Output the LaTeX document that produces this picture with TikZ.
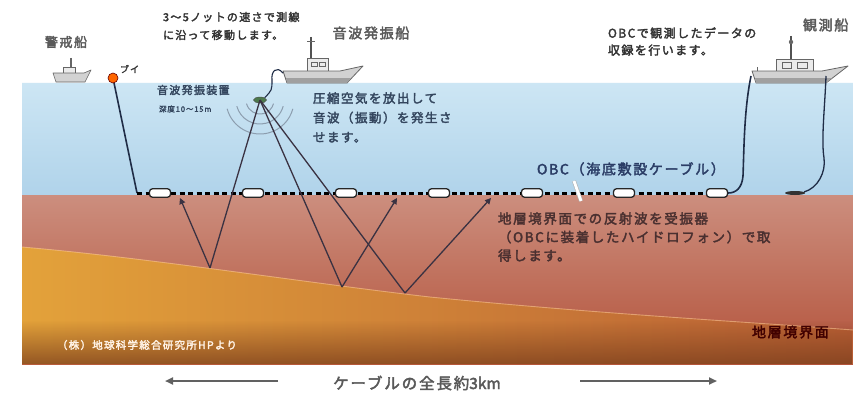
\documentclass[tikz,border=0pt]{standalone}
\usepackage{fontspec}
\newfontfamily\jp[LetterSpace=12,FakeBold=2.6]{Noto Sans CJK JP}
\usetikzlibrary{arrows.meta,fadings,shapes.geometric}

\definecolor{seaTop}{HTML}{CDE6F4}
\definecolor{seaBot}{HTML}{B0D3EA}
\definecolor{mudTop}{HTML}{CC8E7E}
\definecolor{mudBot}{HTML}{B3523A}
\definecolor{sandL}{HTML}{E3A23A}
\definecolor{sandR}{HTML}{B85E35}
\definecolor{deep}{HTML}{7A3E1C}
\definecolor{rope}{HTML}{1F2C46}
\definecolor{raycol}{HTML}{3A3242}
\definecolor{shipFill}{HTML}{D2D2D2}
\definecolor{shipDark}{HTML}{A0A0A0}
\definecolor{shipLine}{HTML}{666666}
\definecolor{titleGray}{HTML}{5A5A5A}
\definecolor{noteDark}{HTML}{333333}
\definecolor{waterText}{HTML}{34465E}
\definecolor{cableText}{HTML}{2B3D66}
\definecolor{mudText}{HTML}{4A3030}
\definecolor{waveCol}{HTML}{8C9DAE}

\tikzset{
  lbl/.style={inner sep=0pt, outer sep=0pt, align=left},
  jpfont/.style={font=\jp\fontsize{#1}{#1}\selectfont},
  capsule/.style={draw=black!85, fill=white, rounded corners=3pt, line width=1.3pt,
    minimum width=21pt, minimum height=8.5pt, inner sep=0pt},
  raypath/.style={draw=raycol, line width=1.3pt},
  rayhit/.style={raypath, -{Triangle[length=6pt,width=6pt]}},
  ropeline/.style={draw=rope, line width=1.6pt},
  hull/.style={fill=shipFill, draw=shipLine, line width=0.8pt, line join=round},
  cabin/.style={fill=white!92!black, draw=shipLine, line width=0.8pt},
  mast/.style={draw=shipLine!80!black, line width=1.8pt},
  wave/.style={draw=waveCol, line width=1pt},
  spanarrow/.style={draw=black!62, line width=2pt, -{Triangle[length=8pt,width=7pt]}},
}

\begin{document}
\begin{tikzpicture}[x=1pt,y=-1pt]
\useasboundingbox (0,0) rectangle (853,396);
\fill[white] (0,0) rectangle (853,396);

% ---------- sea ----------
\shade[top color=seaTop, bottom color=seaBot] (22,82) rectangle (853,195);
\draw[white!85!seaTop, line width=0.8pt] (22,82.5) -- (853,82.5);

% ---------- upper sediment ----------
\shade[top color=mudTop, bottom color=mudBot] (22,195) rectangle (853,364);

% ---------- lower sediment ----------
\shade[left color=sandL, right color=sandR]
  (22,247) .. controls (150,258) and (300,282) .. (430,297)
  .. controls (600,314) and (750,322) .. (853,330)
  -- (853,364) -- (22,364) -- cycle;
\fill[deep, path fading=north, fill opacity=0.75] (22,320) rectangle (853,364);
\draw[white!60!orange, opacity=0.55, line width=0.9pt]
  (22,247) .. controls (150,258) and (300,282) .. (430,297)
  .. controls (600,314) and (750,322) .. (853,330);

% ---------- key points ----------
\coordinate (buoy) at (113,78);
\coordinate (bend) at (137,193);
\coordinate (cend) at (727,193);
\coordinate (r1) at (210,268);
\coordinate (r2) at (342,287);
\coordinate (r3) at (405,293);
\coordinate (h1) at (180,198);
\coordinate (h2) at (397,198);
\coordinate (h3) at (491,198);
\coordinate (stern) at (283,73);
\coordinate (obsA) at (751,76);
\coordinate (obsB) at (826,76);

% ---------- source ship ----------
\draw[mast] (311,37) -- (311,58);
\draw[shipLine, line width=1pt] (307,42) -- (315,42);
\draw[cabin] (307,58) rectangle (328,71);
\draw[shipLine, line width=0.6pt] (311,62) rectangle (317,66) (319,62) rectangle (325,66);
\draw[hull] (283,71) -- (340,71) -- (363,66) -- (347,83) -- (287,83) -- cycle;
\fill[shipDark] (286,78) -- (351,78) -- (347,83) -- (287,83) -- cycle;

% ---------- guard ship ----------
\draw[shipLine, line width=1.2pt] (71,58) -- (71,67);
\draw[cabin, line width=0.6pt] (63,67) rectangle (75,73);
\draw[hull, line width=0.6pt] (53,73) -- (84,73) -- (91,70) -- (85,82) -- (56,82) -- cycle;

% ---------- observation ship ----------
\draw[mast] (791,36) -- (791,59);
\fill[shipLine] (791,42) circle (2.2pt);
\draw[cabin] (776,59) rectangle (813,71);
\draw[shipLine, line width=0.7pt] (782,62) rectangle (791,68) (797,62) rectangle (807,68);
\draw[hull] (752,71) -- (822,71) -- (848,66) -- (826,83) -- (756,83) -- cycle;
\fill[shipDark] (755,78) -- (832,78) -- (826,83) -- (756,83) -- cycle;
\draw[shipLine, line width=1pt] (757,71) -- (757,67);

% ---------- buoy line and cable ----------
\draw[ropeline] (buoy) -- (bend);
\draw[black, line width=3pt, dash pattern=on 5pt off 3.5pt] (bend) -- (cend);
\node[circle, fill=orange!80!red, draw=red!40!black, line width=0.6pt,
      minimum size=10pt, inner sep=0pt] (buoynode) at (buoy) {};

% tow line and air gun
\node[ellipse, fill=green!25!black!70, draw=black!70, minimum width=13pt,
      minimum height=6pt, inner sep=0pt] (src) at (260,100) {};
\draw[ropeline, line width=1.1pt] (stern) .. controls (276,65) and (271,72) .. (272,80)
  .. controls (272,90) .. (src.north east);

% acoustic wave fronts below the gun (radii in pt, so angles are page angles)
\foreach \r in {14,24,34}
  \draw[wave] ([shift={(195:\r pt)}]src.center) arc[start angle=195, end angle=345, radius=\r pt];

% ray paths
\draw[raypath] (src.center) -- (r1);
\draw[raypath] (src.center) -- (r2);
\draw[raypath] (src.center) -- (r3);
\draw[rayhit] (r1) -- (h1);
\draw[rayhit] (r2) -- (h2);
\draw[rayhit] (r3) -- (h3);

% receivers on the cable
\foreach \n/\x in {1/160,2/253,3/346,4/439,5/532,6/624,7/717}
  \node[capsule] (c\n) at (\x,193) {};

% cable up to the observation ship
\draw[ropeline] (c7.east) .. controls (736,193) and (742,188) .. (743,176)
  .. controls (744,150) and (744,110) .. (obsA);
\draw[ropeline, line width=1.3pt] (obsB) .. controls (825,105) and (821,140) .. (824,158)
  .. controls (826,172) and (818,188) .. (804,192);
\node[ellipse, fill=black!80, minimum width=20pt, minimum height=4pt, inner sep=0pt]
  (anchor) at (795,193) {};

% pointer below the cable label
\coordinate (ptA) at (574,181);
\coordinate (ptB) at (581,201);
\draw[black!30, line width=4pt] (ptA) -- (ptB);
\draw[white, line width=2.8pt] (ptA) -- (ptB);

% ---------- labels ----------
\node[lbl, jpfont=13, text=titleGray] (tGuard) at (66,42) {警戒船};
\node[lbl, jpfont=14, text=titleGray] (tSrcShip) at (371,33) {音波発振船};
\node[lbl, jpfont=14, text=titleGray, anchor=west] (tObsShip) at (803,25) {観測船};
\node[lbl, text=noteDark, anchor=west, font=\jp\fontsize{11}{18}\selectfont]
  (tMove) at (163,26) {3〜5ノットの速さで測線\\に沿って移動します。};
\node[lbl, text=noteDark, anchor=west, font=\jp\fontsize{12}{17}\selectfont]
  (tRec) at (608,41.5) {OBCで観測したデータの\\収録を行います。};
\node[lbl, jpfont=9, text=noteDark, anchor=west] (tBuoy) at (120,69) {ブイ};
\node[lbl, jpfont=11, text=waterText, anchor=west] (tGun) at (157,90) {音波発振装置};
\node[lbl, jpfont=7.5, text=waterText, anchor=west] (tDepth) at (159,109) {深度10〜15m};
\node[lbl, text=waterText, anchor=west, font=\jp\fontsize{12.5}{19.5}\selectfont]
  (tAir) at (313,117.5) {圧縮空気を放出して\\音波（振動）を発生さ\\せます。};
\node[lbl, jpfont=14, text=cableText, anchor=west] (tOBC) at (537,169) {OBC（海底敷設ケーブル）};
\node[lbl, text=mudText, anchor=west, font=\jp\fontsize{13.5}{18.5}\selectfont]
  (tRefl) at (498,237) {地層境界面での反射波を受振器\\（OBCに装着したハイドロフォン）で取\\得します。};
\node[lbl, jpfont=14, text=black!75!red, anchor=west] (tBound) at (752,332) {地層境界面};
\node[lbl, jpfont=10.5, text=white!90!orange, anchor=west] (tCredit) at (57,345) {（株）地球科学総合研究所HPより};

% ---------- cable length ----------
\node[lbl, jpfont=15.5, text=black!65] (tLen) at (417,383)
  {ケーブルの全長約{\addfontfeature{LetterSpace=0}3km}};
\coordinate (lenL0) at (278,381);
\coordinate (lenL1) at (165,381);
\coordinate (lenR0) at (580,381);
\coordinate (lenR1) at (717,381);
\draw[spanarrow] (lenL0) -- (lenL1);
\draw[spanarrow] (lenR0) -- (lenR1);
\end{tikzpicture}
\end{document}
